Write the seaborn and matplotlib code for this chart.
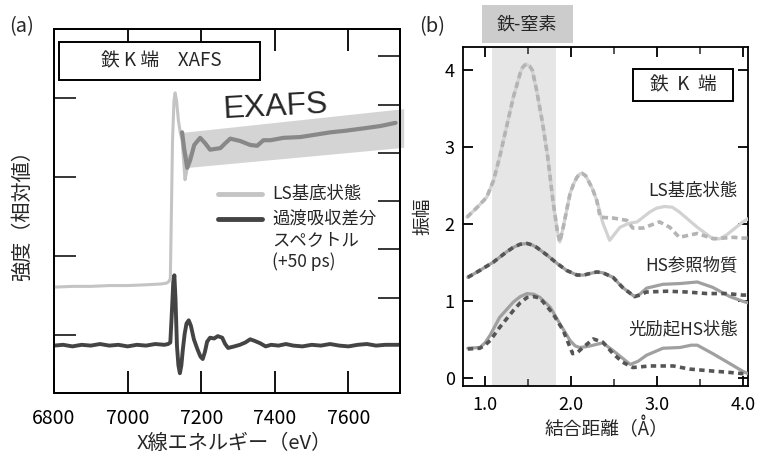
import numpy as np
import pandas as pd
import matplotlib
matplotlib.use("Agg")
import matplotlib.pyplot as plt
from matplotlib.patches import Rectangle
from matplotlib.lines import Line2D
from matplotlib.ticker import MultipleLocator
import matplotlib.transforms as mtransforms
import seaborn as sns

# ================= Panel (a) data: Fe K-edge XAFS =================
ls_edge_E = [6800, 6850, 6900, 6950, 7000, 7050, 7090, 7105, 7112, 7116, 7119,
             7122, 7126, 7129, 7133, 7138, 7143, 7148, 7152, 7156, 7160, 7164]
ls_edge_I = [1.34, 1.35, 1.35, 1.36, 1.36, 1.37, 1.38, 1.39, 1.41, 1.45, 2.30,
             3.20, 3.70, 3.80, 3.70, 3.45, 3.30, 3.20, 2.95, 2.70, 2.80, 3.00]

ls_exafs_E = [7148, 7154, 7162, 7170, 7181, 7197, 7211, 7224, 7238, 7252, 7265,
              7279, 7306, 7333, 7352, 7369, 7388, 7423, 7469, 7510, 7551, 7592,
              7641, 7687, 7728]
ls_exafs_I = [3.30, 3.08, 2.85, 2.95, 3.14, 3.23, 3.16, 3.08, 3.09, 3.10, 3.16,
              3.22, 3.19, 3.14, 3.13, 3.20, 3.20, 3.23, 3.24, 3.27, 3.30, 3.32,
              3.35, 3.38, 3.42]

diff_E = [6800, 6825, 6850, 6875, 6900, 6925, 6950, 6975, 7000, 7025, 7050, 7075,
          7100, 7110, 7116, 7120, 7124, 7127, 7130, 7134, 7138, 7142, 7146, 7150,
          7155, 7160, 7166, 7172, 7180, 7190, 7198, 7204, 7210, 7216, 7224, 7235,
          7245, 7257, 7265, 7273, 7290, 7305, 7320, 7333, 7345, 7360, 7375, 7390,
          7410, 7430, 7450, 7475, 7500, 7525, 7550, 7575, 7600, 7625, 7650, 7675,
          7700, 7740]
diff_I = [0.60, 0.61, 0.59, 0.61, 0.60, 0.62, 0.60, 0.61, 0.59, 0.61, 0.60, 0.62,
          0.61, 0.62, 0.64, 1.00, 1.40, 1.49, 1.20, 0.60, 0.35, 0.25, 0.35, 0.55,
          0.75, 0.88, 0.92, 0.85, 0.68, 0.55, 0.46, 0.43, 0.52, 0.65, 0.70, 0.69,
          0.72, 0.70, 0.62, 0.57, 0.59, 0.61, 0.64, 0.68, 0.66, 0.63, 0.59, 0.61,
          0.60, 0.62, 0.60, 0.59, 0.61, 0.60, 0.62, 0.60, 0.59, 0.61, 0.62, 0.60,
          0.61, 0.61]

band_E = [7150, 7750]
band_top = [3.30, 3.60]
band_bottom = [2.85, 3.11]

a_xticks = [6800, 7000, 7200, 7400, 7600]
a_left_ticks = [0.73, 1.73, 2.73, 3.73]
a_right_ticks = [1.20, 1.82, 2.43, 3.04, 3.65, 4.26]

# ================= Panel (b) data: Fourier transform =================
ls_R_common = [0.79, 0.91, 1.02, 1.10, 1.17, 1.25, 1.33, 1.41, 1.44, 1.48, 1.52,
               1.55, 1.60, 1.67, 1.73, 1.79, 1.84, 1.87, 1.91, 1.99, 2.03, 2.07,
               2.10, 2.13, 2.17, 2.20, 2.25, 2.30]
ls_A_common = [2.09, 2.22, 2.35, 2.57, 2.87, 3.26, 3.65, 3.96, 4.04, 4.08, 4.05,
               4.00, 3.74, 3.31, 2.87, 2.31, 1.92, 1.77, 1.96, 2.40, 2.52, 2.61,
               2.65, 2.66, 2.63, 2.57, 2.46, 2.31]
ls_exp_R = ls_R_common + [2.37, 2.45, 2.57, 2.67, 2.77, 2.92, 3.00, 3.09, 3.18,
                          3.26, 3.47, 3.64, 3.73, 3.81, 4.00, 4.06]
ls_exp_A = ls_A_common + [2.02, 1.79, 1.96, 2.01, 2.03, 2.16, 2.21, 2.23, 2.22,
                          2.16, 1.96, 1.82, 1.81, 1.86, 2.03, 2.07]
ls_fit_R = ls_R_common + [2.34, 2.49, 2.65, 2.72, 2.84, 3.03, 3.15, 3.26, 3.47,
                          3.66, 3.89, 4.00, 4.06]
ls_fit_A = ls_A_common + [2.09, 2.08, 2.05, 1.95, 1.95, 2.03, 1.96, 1.83, 1.88,
                          1.81, 1.83, 1.82, 1.82]

hs_R_common = [0.80, 0.94, 1.10, 1.25, 1.33, 1.41, 1.49, 1.55, 1.60, 1.72, 1.84,
               1.95, 2.07, 2.15, 2.22, 2.30, 2.37, 2.49, 2.60, 2.74]
hs_A_common = [1.31, 1.40, 1.51, 1.64, 1.70, 1.74, 1.75, 1.73, 1.70, 1.60, 1.49,
               1.40, 1.34, 1.34, 1.36, 1.38, 1.37, 1.31, 1.18, 1.06]
hs_exp_R = hs_R_common + [2.80, 2.88, 3.07, 3.27, 3.47, 3.65, 3.85, 4.00, 4.06]
hs_exp_A = hs_A_common + [1.09, 1.17, 1.22, 1.23, 1.25, 1.18, 1.06, 1.00, 0.98]
hs_fit_R = hs_R_common + [2.80, 2.88, 3.12, 3.35, 3.58, 3.81, 4.00, 4.06]
hs_fit_A = hs_A_common + [1.08, 1.12, 1.13, 1.12, 1.10, 1.10, 1.08, 1.08]

pe_exp_R = [0.80, 0.94, 1.00, 1.06, 1.17, 1.33, 1.41, 1.49, 1.57, 1.64, 1.76,
            1.87, 1.99, 2.05, 2.10, 2.18, 2.26, 2.37, 2.49, 2.69, 2.78, 2.88,
            3.07, 3.27, 3.40, 3.47, 3.65, 3.85, 4.00, 4.06]
pe_exp_A = [0.39, 0.40, 0.46, 0.56, 0.79, 0.99, 1.06, 1.10, 1.09, 1.05, 0.92,
            0.71, 0.49, 0.42, 0.40, 0.41, 0.43, 0.46, 0.36, 0.18, 0.22, 0.30,
            0.39, 0.40, 0.43, 0.43, 0.32, 0.19, 0.09, 0.06]
pe_fit_R = [0.80, 0.94, 1.00, 1.06, 1.17, 1.33, 1.41, 1.49, 1.57, 1.64, 1.79,
            1.91, 2.02, 2.08, 2.14, 2.26, 2.37, 2.49, 2.60, 2.72, 2.92, 3.19,
            3.38, 3.58, 3.81, 4.00, 4.06]
pe_fit_A = [0.38, 0.39, 0.43, 0.49, 0.66, 0.88, 0.98, 1.05, 1.06, 1.04, 0.84,
            0.62, 0.32, 0.34, 0.40, 0.51, 0.47, 0.32, 0.21, 0.14, 0.16, 0.16,
            0.12, 0.10, 0.08, 0.06, 0.06]

fe_n_range = [1.08, 1.83]
b_xticks = [1.0, 2.0, 3.0, 4.0]
b_xticklabels = ["1.0", "2.0", "3.0", "4.0"]
b_yticks = [0, 1, 2, 3, 4]

# ================= Style =================
sns.set_theme(style="ticks")
plt.rcParams["font.family"] = ["Noto Sans CJK JP", "DejaVu Sans"]
plt.rcParams["axes.linewidth"] = 1.3
plt.rcParams["axes.edgecolor"] = "black"
plt.rcParams["lines.solid_joinstyle"] = "round"
plt.rcParams["lines.solid_capstyle"] = "round"
plt.rcParams["lines.dash_joinstyle"] = "round"

W, H = 758, 454
fig = plt.figure(figsize=(W / 100, H / 100), dpi=100)
fig.patch.set_facecolor("white")


def fx(px):
    return px / W


def fy(py):
    return 1 - py / H


# ---------------- Panel (a) ----------------
axA = fig.add_axes([fx(54), fy(393), fx(400) - fx(54), fy(29) - fy(393)])
axA.set_xlim(6800, 7740)
axA.set_ylim(0, 4.608)

axA.fill_between(band_E, band_bottom, band_top, color="#d4d4d4", lw=0,
                 clip_on=False, zorder=1)
sns.lineplot(x=ls_edge_E, y=ls_edge_I, ax=axA, color="#c4c4c4", linewidth=2.2,
             estimator=None, zorder=3)
sns.lineplot(x=ls_exafs_E, y=ls_exafs_I, ax=axA, color="#888888", linewidth=3.0,
             estimator=None, zorder=4)
sns.lineplot(x=diff_E, y=diff_I, ax=axA, color="#444444", linewidth=2.8,
             estimator=None, zorder=5)

axA.set_xticks(a_xticks)
axA.set_xticklabels([str(t) for t in a_xticks])
axA.set_yticks(a_left_ticks)
axA.set_yticklabels([])
axA.tick_params(axis="x", direction="in", length=16, width=1.3, top=True,
                labelsize=14, pad=11, colors="black")
axA.tick_params(axis="y", direction="in", length=16, width=1.3, right=False,
                left=True, labelleft=False)
axR = axA.twinx()
axR.set_ylim(0, 4.608)
axR.set_yticks(a_right_ticks)
axR.set_yticklabels([])
axR.tick_params(axis="y", direction="in", length=16, width=1.3, labelright=False)
for ax_ in (axA, axR):
    for s in ax_.spines.values():
        s.set_visible(True)
        s.set_linewidth(1.3)
        s.set_color("black")

axA.set_xlabel("X線エネルギー（eV）", fontsize=14.5)
axA.xaxis.set_label_coords(0.52, -0.11)
axA.set_ylabel("強度（相対値）", fontsize=14.5)
axA.yaxis.set_label_coords(-0.062, 0.5)

# title box
axA.add_patch(Rectangle((0.0145, 0.860), 0.58, 0.104, transform=axA.transAxes,
                        facecolor="white", edgecolor="black", lw=1.4, zorder=6))
axA.text(0.31, 0.912, "鉄 K 端　XAFS", transform=axA.transAxes, fontsize=13.5,
         ha="center", va="center", zorder=7)
axA.text(0.639, 0.786, "EXAFS", transform=axA.transAxes, fontsize=23,
         family=["Liberation Sans", "DejaVu Sans"], ha="center", va="center",
         rotation=3, zorder=7)

# legend
axA.add_line(Line2D([0.474, 0.601], [0.547, 0.547], transform=axA.transAxes,
                    color="#c4c4c4", lw=3.5))
axA.add_line(Line2D([0.474, 0.601], [0.478, 0.478], transform=axA.transAxes,
                    color="#444444", lw=3.5))
axA.text(0.630, 0.547, "LS基底状態", transform=axA.transAxes, fontsize=12.5,
         ha="left", va="center")
axA.text(0.630, 0.478, "過渡吸収差分", transform=axA.transAxes, fontsize=12.5,
         ha="left", va="center")
axA.text(0.630, 0.420, "スペクトル", transform=axA.transAxes, fontsize=12.5,
         ha="left", va="center")
axA.text(0.630, 0.362, "(+50 ps)", transform=axA.transAxes, fontsize=12.5,
         ha="left", va="center")

fig.text(fx(22), fy(27), "(a)", fontsize=14.5, ha="center", va="center")

# ---------------- Panel (b) ----------------
axB = fig.add_axes([fx(463), fy(386), fx(748) - fx(463), fy(47) - fy(386)])
axB.set_xlim(0.744, 4.06)
axB.set_ylim(-0.10, 4.30)

axB.axvspan(fe_n_range[0], fe_n_range[1], color="#e6e6e6", lw=0, zorder=0)

solid_lw = 2.3
dash_lw = 2.6
sns.lineplot(x=ls_exp_R, y=ls_exp_A, ax=axB, color="#d2d2d2", linewidth=solid_lw,
             estimator=None, zorder=3)
sns.lineplot(x=ls_fit_R, y=ls_fit_A, ax=axB, color="#b4b4b4", linewidth=dash_lw,
             linestyle=(0, (1.7, 1.1)), estimator=None, zorder=4)
sns.lineplot(x=hs_exp_R, y=hs_exp_A, ax=axB, color="#a0a0a0", linewidth=solid_lw,
             estimator=None, zorder=3)
sns.lineplot(x=hs_fit_R, y=hs_fit_A, ax=axB, color="#555555", linewidth=dash_lw,
             linestyle=(0, (1.5, 1.2)), estimator=None, zorder=4)
sns.lineplot(x=pe_exp_R, y=pe_exp_A, ax=axB, color="#a0a0a0", linewidth=solid_lw,
             estimator=None, zorder=3)
sns.lineplot(x=pe_fit_R, y=pe_fit_A, ax=axB, color="#555555", linewidth=dash_lw,
             linestyle=(0, (1.5, 1.2)), estimator=None, zorder=4)

axB.set_xticks(b_xticks)
axB.set_xticklabels(b_xticklabels)
axB.xaxis.set_minor_locator(MultipleLocator(0.5))
axB.set_yticks(b_yticks)
axB.set_yticklabels([str(t) for t in b_yticks])
axB.tick_params(axis="both", which="major", direction="in", length=7, width=1.3,
                top=True, right=True, labelsize=13, colors="black")
axB.tick_params(axis="x", which="minor", direction="in", length=5, width=1.1,
                top=True, bottom=True)
axB.tick_params(axis="x", which="major", pad=7)
axB.tick_params(axis="y", which="major", pad=6)
for s in axB.spines.values():
    s.set_visible(True)
    s.set_linewidth(1.3)
    s.set_color("black")

axB.set_xlabel("結合距離（Å）", fontsize=13.5)
axB.xaxis.set_label_coords(0.505, -0.095)
axB.set_ylabel("振幅", fontsize=13.5)
axB.yaxis.set_label_coords(-0.105, 0.5)

# 鉄-窒素 label above shaded region
trB = mtransforms.blended_transform_factory(axB.transData, axB.transAxes)
axB.add_patch(Rectangle((0.965, 1.012), 1.055, 0.112, transform=trB,
                        facecolor="#cccccc", edgecolor="none", clip_on=False))
axB.text(1.49, 1.066, "鉄-窒素", transform=trB, fontsize=13, ha="center",
         va="center", clip_on=False)

axB.add_patch(Rectangle((0.596, 0.841), 0.351, 0.094, transform=axB.transAxes,
                        facecolor="white", edgecolor="black", lw=1.4, zorder=6))
axB.text(0.772, 0.888, "鉄  K  端", transform=axB.transAxes, fontsize=13.5,
         ha="center", va="center", zorder=7)

axB.text(0.962, 0.575, "LS基底状態", transform=axB.transAxes, fontsize=12.5,
         ha="right", va="center")
axB.text(0.962, 0.357, "HS参照物質", transform=axB.transAxes, fontsize=12.5,
         ha="right", va="center")
axB.text(0.965, 0.168, "光励起HS状態", transform=axB.transAxes, fontsize=12.5,
         ha="right", va="center")

fig.text(fx(432), fy(27), "(b)", fontsize=14.5, ha="center", va="center")

fig.savefig("out.png", dpi=100, facecolor="white")
